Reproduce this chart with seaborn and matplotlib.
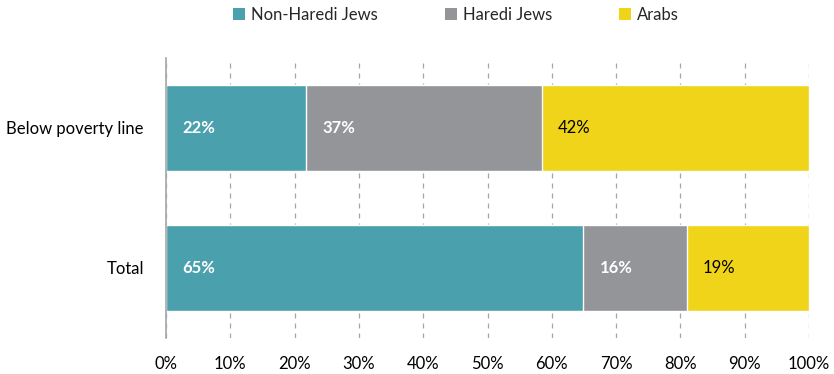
import matplotlib
matplotlib.use("Agg")
import matplotlib.pyplot as plt
from matplotlib.patches import Patch
from matplotlib.ticker import FuncFormatter, MultipleLocator
import numpy as np
import pandas as pd
import seaborn as sns

categories = ["Below poverty line", "Total"]
groups = ["Non-Haredi Jews", "Haredi Jews", "Arabs"]
non_haredi = [21.8, 64.9]
haredi = [36.7, 16.1]
arabs = [41.5, 19.0]
colors = ["#4AA0AD", "#939598", "#F0D419"]
label_colors = ["white", "white", "black"]
label_weights = ["bold", "bold", "normal"]

sns.set_style("white")
plt.rcParams["font.family"] = ["Lato", "DejaVu Sans"]

values = np.array([non_haredi, haredi, arabs])
cum = values.cumsum(axis=0)
left = cum - values

fig = plt.figure(figsize=(8.34, 3.74), dpi=100)
ax = fig.add_axes([166 / 834, 1 - 338 / 374, (809 - 166) / 834, (338 - 58) / 374])

# stacked bars: draw cumulative totals from the outermost segment inward
for i in range(len(groups) - 1, -1, -1):
    df = pd.DataFrame({"category": categories, "value": cum[i]})
    sns.barplot(data=df, x="value", y="category", orient="h", color=colors[i],
                width=0.62, edgecolor="white", linewidth=1, saturation=1,
                ax=ax, zorder=2)

for i in range(len(groups)):
    for j in range(len(categories)):
        ax.text(left[i, j] + 2.5, j, f"{round(values[i, j]):.0f}%",
                va="center", ha="left", fontsize=12, color=label_colors[i],
                fontweight=label_weights[i], zorder=3)

ax.set_xlim(0, 100)
ax.set_ylim(1.5, -0.5)
ax.xaxis.set_major_locator(MultipleLocator(10))
ax.xaxis.set_major_formatter(FuncFormatter(lambda v, p: f"{v:.0f}%"))
ax.grid(axis="x", color="#A6A6A6", linestyle=(0, (4, 4)), linewidth=0.9, zorder=0)
ax.grid(axis="y", visible=False)
ax.set_xlabel("")
ax.set_ylabel("")
for s in ["top", "right", "bottom"]:
    ax.spines[s].set_visible(False)
ax.spines["left"].set_color("#A6A6A6")
ax.spines["left"].set_linewidth(1.2)
ax.tick_params(axis="both", length=0, labelsize=12, colors="black")
ax.tick_params(axis="x", pad=13)
ax.tick_params(axis="y", pad=16)

handles = [Patch(facecolor=c, edgecolor="none") for c in colors]
fig.legend(handles, groups, loc="center", bbox_to_anchor=(0.547, 0.96), ncol=3,
           frameon=False, fontsize=12, handlelength=0.7, handleheight=0.7,
           handletextpad=0.4, columnspacing=4.0)

fig.savefig("out.png", dpi=100)
